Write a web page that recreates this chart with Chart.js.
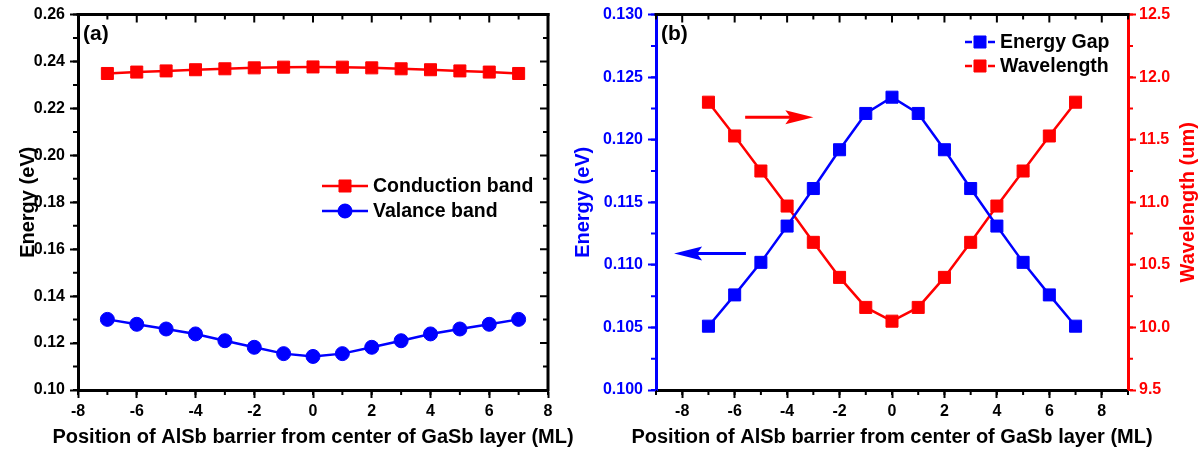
<!DOCTYPE html>
<html>
<head>
<meta charset="utf-8">
<title>AlSb barrier position in GaSb layer</title>
<script src="https://cdn.jsdelivr.net/npm/chart.js@4.4.0/dist/chart.umd.min.js"></script>
<style>
  html, body { margin: 0; padding: 0; background: #fff; }
  #wrap { position: relative; width: 1203px; height: 454px; overflow: hidden; }
  #wrap canvas { position: absolute; top: 0; }
  #chartA { left: 0; }
  #chartB { left: 560px; }
</style>
</head>
<body>
<div id="wrap">
  <canvas id="chartA" width="600" height="454"></canvas>
  <canvas id="chartB" width="643" height="454"></canvas>
</div>
<script>
// Position of the AlSb barrier from the GaSb layer centre (ML)
const positions = [-7, -6, -5, -4, -3, -2, -1, 0, 1, 2, 3, 4, 5, 6, 7];

// (a) band edges (eV)
const conductionBand = [0.2349, 0.2355, 0.2360, 0.2365, 0.2369, 0.2373, 0.2376, 0.2377,
                        0.2376, 0.2373, 0.2369, 0.2365, 0.2360, 0.2355, 0.2349];
const valanceBand = [0.1301, 0.1280, 0.1260, 0.1239, 0.1210, 0.1182, 0.1155, 0.1143,
                     0.1155, 0.1182, 0.1210, 0.1239, 0.1260, 0.1280, 0.1301];

// (b) energy gap (eV) and wavelength (um)
const energyGap = [0.1051, 0.1076, 0.1102, 0.1131, 0.1161, 0.1192, 0.1221, 0.1234,
                   0.1221, 0.1192, 0.1161, 0.1131, 0.1102, 0.1076, 0.1051];
const wavelength = [11.80, 11.53, 11.25, 10.97, 10.68, 10.40, 10.16, 10.05,
                    10.16, 10.40, 10.68, 10.97, 11.25, 11.53, 11.80];

// tick labels
const xTicks = [-8, -6, -4, -2, 0, 2, 4, 6, 8];
const yTicksA = [0.10, 0.12, 0.14, 0.16, 0.18, 0.20, 0.22, 0.24, 0.26];
const yTicksGap = [0.100, 0.105, 0.110, 0.115, 0.120, 0.125, 0.130];
const yTicksWave = [9.5, 10.0, 10.5, 11.0, 11.5, 12.0, 12.5];

const X_TITLE = 'Position of AlSb barrier from center of GaSb layer (ML)';

const RED = '#ff0000';
const BLUE = '#0000ff';
const FONT = '"Liberation Sans", Arial, sans-serif';
const TITLE_SIZE = 20;

const toPoints = vals => vals.map((v, i) => ({ x: positions[i], y: v }));

// frame: minor ticks on every axis, mirrored top/right border with inward ticks
const framePlugin = {
    id: 'frame',
    afterDraw(chart, args, opts) {
        if (!opts.minor) return;
        const ctx = chart.ctx;
        const { left, right, top, bottom } = chart.chartArea;
        ctx.save();
        ctx.lineCap = 'butt';

        opts.minor.forEach(m => {
            const scale = chart.scales[m.axis];
            const n = Math.round((scale.max - scale.min) / m.step);
            ctx.strokeStyle = m.color;
            ctx.lineWidth = 2;
            ctx.beginPath();
            for (let i = 0; i <= n; i++) {
                const p = scale.getPixelForValue(scale.min + i * m.step);
                if (scale.position === 'bottom') { ctx.moveTo(p, bottom); ctx.lineTo(p, bottom + 5); }
                if (scale.position === 'left') { ctx.moveTo(left, p); ctx.lineTo(left - 5, p); }
                if (scale.position === 'right') { ctx.moveTo(right, p); ctx.lineTo(right + 5, p); }
            }
            ctx.stroke();
        });

        // top border with inward ticks
        const xs = chart.scales.x;
        ctx.strokeStyle = '#000';
        ctx.lineWidth = 3;
        ctx.beginPath();
        ctx.moveTo(left - 1.5, top);
        ctx.lineTo(right + 1.5, top);
        ctx.stroke();
        ctx.lineWidth = 2;
        ctx.beginPath();
        const nx = Math.round((xs.max - xs.min) / opts.xMinor);
        for (let i = 0; i <= nx; i++) {
            const v = xs.min + i * opts.xMinor;
            const p = xs.getPixelForValue(v);
            const len = xTicks.includes(Math.round(v * 1000) / 1000) ? 8 : 5;
            ctx.moveTo(p, top);
            ctx.lineTo(p, top + len);
        }
        ctx.stroke();

        // right border with inward ticks (single y axis panel)
        if (opts.mirrorRight) {
            const ys = chart.scales.y;
            ctx.lineWidth = 3;
            ctx.beginPath();
            ctx.moveTo(right, top - 1.5);
            ctx.lineTo(right, bottom + 1.5);
            ctx.stroke();
            ctx.lineWidth = 2;
            ctx.beginPath();
            const ny = Math.round((ys.max - ys.min) / opts.yMinor);
            for (let i = 0; i <= ny; i++) {
                const p = ys.getPixelForValue(ys.min + i * opts.yMinor);
                const len = i % 2 === 0 ? 8 : 5;
                ctx.moveTo(right, p);
                ctx.lineTo(right - len, p);
            }
            ctx.stroke();
        }
        ctx.restore();
    }
};

// legend with a line sample through the marker, panel tag, arrows and axis titles
const notesPlugin = {
    id: 'notes',
    afterDatasetsDraw(chart, args, opts) {
        if (!opts.legend) return;
        const ctx = chart.ctx;
        const { left, right, top, bottom } = chart.chartArea;
        ctx.save();

        // panel tag
        ctx.fillStyle = '#000';
        ctx.font = 'bold 21px ' + FONT;
        ctx.textBaseline = 'middle';
        ctx.textAlign = 'left';
        ctx.fillText(opts.tag, left + 5, top + 20);

        // legend rows
        const lg = opts.legend;
        chart.data.datasets.forEach((ds, i) => {
            const y = lg.y + i * lg.rowGap;
            const cx = lg.x + lg.half;
            ctx.strokeStyle = ds.borderColor;
            ctx.lineWidth = ds.borderWidth;
            ctx.beginPath();
            if (lg.dashed) {
                ctx.moveTo(lg.x, y); ctx.lineTo(lg.x + 7, y);
                ctx.moveTo(cx + lg.half - 7, y); ctx.lineTo(cx + lg.half, y);
            } else {
                ctx.moveTo(lg.x, y); ctx.lineTo(cx + lg.half, y);
            }
            ctx.stroke();
            ctx.fillStyle = ds.pointBackgroundColor;
            ctx.lineWidth = 1;
            Chart.helpers.drawPoint(ctx, {
                pointStyle: ds.pointStyle, radius: ds.pointRadius, borderWidth: 1, rotation: 0
            }, cx, y);
            ctx.fill();
            ctx.fillStyle = '#000';
            ctx.font = 'bold 19.5px ' + FONT;
            ctx.fillText(ds.label, cx + lg.half + 5, y + 1);
        });

        // arrows pointing at the axis each curve belongs to
        (opts.arrows || []).forEach(a => {
            const xs = chart.scales.x, ys = chart.scales[a.axis];
            const x0 = xs.getPixelForValue(a.from), x1 = xs.getPixelForValue(a.to);
            const y = ys.getPixelForValue(a.y);
            const dir = Math.sign(x1 - x0);
            ctx.strokeStyle = a.color;
            ctx.fillStyle = a.color;
            ctx.lineWidth = 3;
            ctx.beginPath();
            ctx.moveTo(x0, y);
            ctx.lineTo(x1 - dir * 20, y);
            ctx.stroke();
            ctx.beginPath();
            ctx.moveTo(x1, y);
            ctx.lineTo(x1 - dir * 28, y - 7);
            ctx.lineTo(x1 - dir * 23, y);
            ctx.lineTo(x1 - dir * 28, y + 7);
            ctx.closePath();
            ctx.fill();
        });

        // bottom axis title, wider than the plot area
        ctx.textAlign = 'center';
        ctx.fillStyle = '#000';
        ctx.font = 'bold ' + TITLE_SIZE + 'px ' + FONT;
        ctx.fillText(X_TITLE, (left + right) / 2, bottom + 47);

        // right-hand axis title reads bottom to top
        if (opts.rightTitle) {
            const rt = opts.rightTitle;
            ctx.translate(rt.x, (top + bottom) / 2);
            ctx.rotate(-Math.PI / 2);
            ctx.fillStyle = rt.color;
            ctx.fillText(rt.text, 0, 0);
        }
        ctx.restore();
    }
};

Chart.register(framePlugin, notesPlugin);

function setTicks(list) {
    return scale => { scale.ticks = list.map(v => ({ value: v })); };
}

function xAxis() {
    return {
        type: 'linear',
        position: 'bottom',
        afterBuildTicks: setTicks(xTicks),
        afterFit: s => { s.height = 64; },
        border: { color: '#000', width: 3 },
        grid: { drawOnChartArea: false, tickLength: 8, tickWidth: 2, tickColor: '#000' },
        ticks: { color: '#000', padding: 4, maxRotation: 0, font: { family: FONT, size: 16, weight: 'bold' } }
    };
}

function yAxis(color, ticks, width, pos, fmt) {
    return {
        type: 'linear',
        position: pos,
        min: ticks[0],
        max: ticks[ticks.length - 1],
        afterBuildTicks: setTicks(ticks),
        afterFit: s => { s.width = width; },
        border: { color: color, width: 3 },
        grid: { drawOnChartArea: false, tickLength: 8, tickWidth: 2, tickColor: color },
        ticks: {
            color: color, padding: pos === 'right' ? 3 : 5,
            font: { family: FONT, size: 16, weight: 'bold' },
            callback: v => v.toFixed(fmt)
        }
    };
}

function lineSet(label, vals, color, style, radius, axis) {
    return {
        label: label,
        data: toPoints(vals),
        yAxisID: axis,
        borderColor: color,
        backgroundColor: color,
        borderWidth: 2.5,
        pointStyle: style,
        pointRadius: radius,
        pointBorderWidth: 1,
        pointBackgroundColor: color,
        pointBorderColor: color,
        tension: 0
    };
}

// (a) conduction and valance band edges
const scalesA = {
    x: Object.assign(xAxis(), { min: -8, max: 8 }),
    y: yAxis('#000', yTicksA, 78, 'left', 2)
};
scalesA.y.title = {
    display: true, text: 'Energy (eV)', color: '#000',
    padding: { top: 16, bottom: 0 }, font: { family: FONT, size: TITLE_SIZE, weight: 'bold' }
};

new Chart(document.getElementById('chartA'), {
    type: 'line',
    data: {
        datasets: [
            lineSet('Conduction band', conductionBand, RED, 'rect', 8.5, 'y'),
            lineSet('Valance band', valanceBand, BLUE, 'circle', 7, 'y')
        ]
    },
    options: {
        responsive: false,
        animation: false,
        devicePixelRatio: 1,
        layout: { padding: { left: 0, right: 52, top: 11, bottom: 0 } },
        scales: scalesA,
        plugins: {
            legend: { display: false },
            tooltip: { enabled: false },
            frame: {
                minor: [{ axis: 'x', step: 1, color: '#000' }, { axis: 'y', step: 0.01, color: '#000' }],
                xMinor: 1, yMinor: 0.01, mirrorRight: true
            },
            notes: {
                tag: '(a)',
                legend: { x: 322, y: 186, rowGap: 25, half: 23, dashed: false }
            }
        }
    }
});

// (b) energy gap on the left axis, wavelength on the right axis
const scalesB = {
    x: Object.assign(xAxis(), { min: -9, max: 9 }),
    y: yAxis(BLUE, yTicksGap, 96, 'left', 3),
    y2: yAxis(RED, yTicksWave, 75, 'right', 1)
};
scalesB.y.title = {
    display: true, text: 'Energy (eV)', color: BLUE,
    padding: { top: 11, bottom: 0 }, font: { family: FONT, size: TITLE_SIZE, weight: 'bold' }
};

new Chart(document.getElementById('chartB'), {
    type: 'line',
    data: {
        datasets: [
            lineSet('Energy Gap', energyGap, BLUE, 'rect', 8.5, 'y'),
            lineSet('Wavelength', wavelength, RED, 'rect', 8.5, 'y2')
        ]
    },
    options: {
        responsive: false,
        animation: false,
        devicePixelRatio: 1,
        layout: { padding: { left: 0, right: 0, top: 11, bottom: 0 } },
        scales: scalesB,
        plugins: {
            legend: { display: false },
            tooltip: { enabled: false },
            frame: {
                minor: [
                    { axis: 'x', step: 1, color: '#000' },
                    { axis: 'y', step: 0.0025, color: BLUE },
                    { axis: 'y2', step: 0.25, color: RED }
                ],
                xMinor: 1, mirrorRight: false
            },
            notes: {
                tag: '(b)',
                legend: { x: 405, y: 42, rowGap: 24, half: 15, dashed: true },
                arrows: [
                    { axis: 'y2', from: -5.6, to: -3.0, y: 11.68, color: RED },
                    { axis: 'y', from: -5.57, to: -8.31, y: 0.1109, color: BLUE }
                ],
                rightTitle: { text: 'Wavelength (um)', color: RED, x: 628 }
            }
        }
    }
});
</script>
</body>
</html>
